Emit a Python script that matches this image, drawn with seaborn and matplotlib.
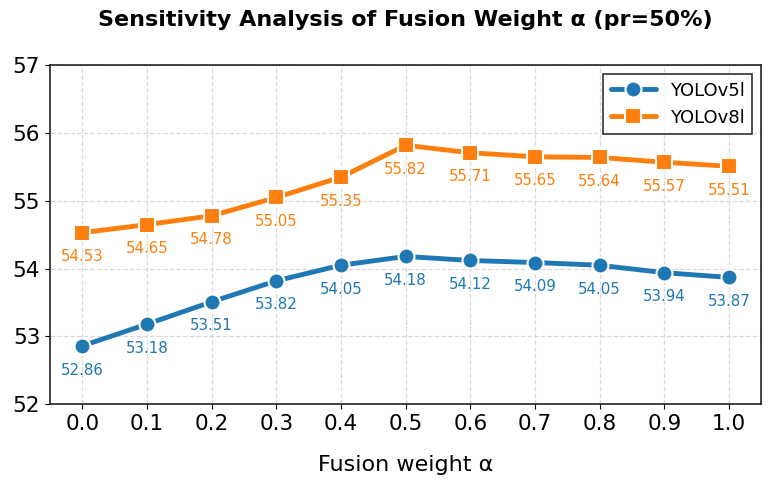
import numpy as np
import pandas as pd
import matplotlib
matplotlib.use("Agg")
import matplotlib.pyplot as plt
import seaborn as sns

# -------------------------------------------------------
# Data
# -------------------------------------------------------

alpha = [0.0, 0.1, 0.2, 0.3, 0.4, 0.5, 0.6, 0.7, 0.8, 0.9, 1.0]
yolov5l = [52.86, 53.18, 53.51, 53.82, 54.05, 54.18, 54.12, 54.09, 54.05, 53.94, 53.87]
yolov8l = [54.53, 54.65, 54.78, 55.05, 55.35, 55.82, 55.71, 55.65, 55.64, 55.57, 55.51]

df = pd.DataFrame({
    "alpha": alpha * 2,
    "mAP": yolov5l + yolov8l,
    "Model": ["YOLOv5l"] * len(alpha) + ["YOLOv8l"] * len(alpha),
})

sns.set_style("ticks")
plt.rcParams["font.family"] = ["DejaVu Sans"]
plt.rcParams["text.color"] = "black"
plt.rcParams["axes.labelcolor"] = "black"
plt.rcParams["xtick.color"] = "black"
plt.rcParams["ytick.color"] = "black"
plt.rcParams["axes.edgecolor"] = "#222222"

fig, ax = plt.subplots(figsize=(7.69, 4.84), dpi=100)

colors = {"YOLOv5l": "#1f77b4", "YOLOv8l": "#ff7f0e"}

sns.lineplot(
    data=df,
    x="alpha",
    y="mAP",
    hue="Model",
    style="Model",
    markers={"YOLOv5l": "o", "YOLOv8l": "s"},
    dashes=False,
    palette=colors,
    linewidth=3.5,
    markersize=11.5,
    markeredgecolor="white",
    markeredgewidth=1.5,
    ax=ax,
)

# value labels under each point
for x, y in zip(alpha, yolov5l):
    ax.annotate(f"{y:.2f}", (x, y), xytext=(0, -12), textcoords="offset points",
                ha="center", va="top", fontsize=10.8, color=colors["YOLOv5l"])
for x, y in zip(alpha, yolov8l):
    ax.annotate(f"{y:.2f}", (x, y), xytext=(0, -12), textcoords="offset points",
                ha="center", va="top", fontsize=10.8, color=colors["YOLOv8l"])

ax.set_xlim(-0.05, 1.05)
ax.set_ylim(52, 57)
ax.set_xticks(alpha)
ax.set_xticklabels([f"{a:.1f}" for a in alpha])
ax.set_yticks([52, 53, 54, 55, 56, 57])
ax.tick_params(axis="both", labelsize=15.5)

ax.grid(True, linestyle="--", color="#d9d9d9", linewidth=0.9)
ax.set_axisbelow(True)

ax.set_xlabel("Fusion weight α", fontsize=16, labelpad=15)
ax.set_ylabel("")
ax.set_title("Sensitivity Analysis of Fusion Weight α (pr=50%)",
             fontsize=16, fontweight="bold", pad=28)

leg = ax.legend(title=None, loc="upper right", fontsize=13, frameon=True,
                fancybox=False, edgecolor="black", handlelength=2.5)
leg.get_frame().set_linewidth(1.2)

for s in ax.spines.values():
    s.set_linewidth(1.2)

plt.subplots_adjust(left=0.065, right=0.99, top=0.865, bottom=0.165)

plt.savefig("out.png", dpi=100)
plt.close()
